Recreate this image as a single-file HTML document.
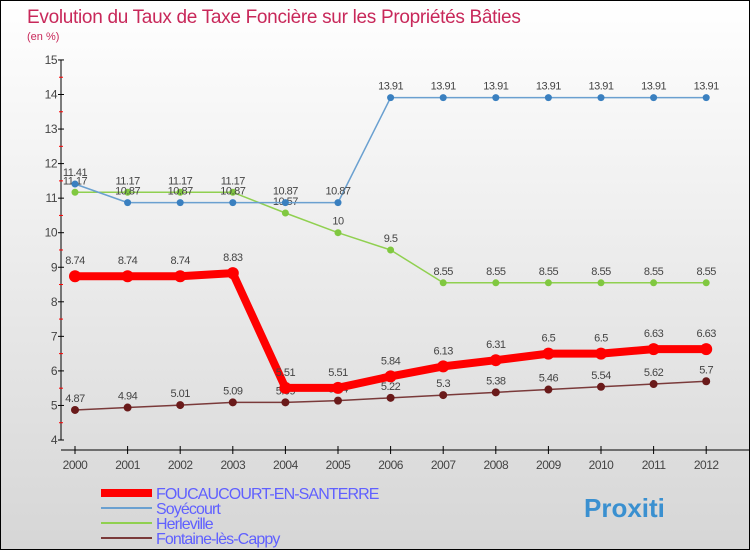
<!DOCTYPE html>
<html><head><meta charset="utf-8"><style>
body{margin:0}
#wrap{width:748px;height:548px;border:1px solid #000;background:linear-gradient(#fff,#d6d6d6);position:relative;font-family:"Liberation Sans",sans-serif}
</style></head><body>
<div id="wrap">
<svg id="c" width="748" height="548" xmlns="http://www.w3.org/2000/svg"></svg>
</div>
<script>
const years=[2000,2001,2002,2003,2004,2005,2006,2007,2008,2009,2010,2011,2012];
const foucaucourt=[8.74,8.74,8.74,8.83,5.51,5.51,5.84,6.13,6.31,6.5,6.5,6.63,6.63];
const soyecourt=[11.41,10.87,10.87,10.87,10.87,10.87,13.91,13.91,13.91,13.91,13.91,13.91,13.91];
const herleville=[11.17,11.17,11.17,11.17,10.57,10,9.5,8.55,8.55,8.55,8.55,8.55,8.55];
const fontaine=[4.87,4.94,5.01,5.09,5.09,5.14,5.22,5.3,5.38,5.46,5.54,5.62,5.7];
const yTicks=[4,5,6,7,8,9,10,11,12,13,14,15];
const svg=document.getElementById('c');const NS='http://www.w3.org/2000/svg';
function X(i){return 74+i*52.6}
function Y(v){return 439-(v-4)*34.55}
function el(t,a,p){const e=document.createElementNS(NS,t);for(const k in a)e.setAttribute(k,a[k]);(p||svg).appendChild(e);return e}
let t=el('text',{x:26,y:22,'font-size':19,fill:'#c8285a','letter-spacing':'-0.3'});t.textContent='Evolution du Taux de Taxe Foncière sur les Propriétés Bâties';

t=el('text',{x:26,y:39,'font-size':11,fill:'#c8285a'});t.textContent='(en %)';

let a=el('line',{x1:60,y1:Y(15),x2:60,y2:Y(4),stroke:'#000'});

a=el('line',{x1:60,y1:449,x2:748,y2:449,stroke:'#000'});

yTicks.forEach(v=>{el('line',{x1:57,y1:Y(v),x2:63,y2:Y(v),stroke:'#000'});
 if(v<15)el('line',{x1:58,y1:Y(v+.5),x2:62,y2:Y(v+.5),stroke:'#f00'});
 const l=el('text',{x:56,y:Y(v)+4,'font-size':12,'text-anchor':'end',fill:'#444','letter-spacing':'-0.5'});l.textContent=v;
 });
years.forEach((y,i)=>{el('line',{x1:X(i),y1:445,x2:X(i),y2:453,stroke:'#000'});
 const l=el('text',{x:X(i),y:468,'font-size':12,'text-anchor':'middle',fill:'#444','letter-spacing':'-0.5'});l.textContent=y;
 });
function series(d,col,w,r,dot,name,labOff){
 const g=el('g',{});
 el('polyline',{points:d.map((v,i)=>X(i)+','+Y(v)).join(' '),fill:'none',stroke:col,'stroke-width':w,'stroke-linejoin':'round'},g);
 d.forEach((v,i)=>{const c=el('circle',{cx:X(i),cy:Y(v),r:r,fill:dot},g);
  
  const l=el('text',{x:X(i),y:Y(v)-labOff,'font-size':11,'text-anchor':'middle',fill:'#444','letter-spacing':'-0.5'},g);l.textContent=v;});
}
series(fontaine,'#7a3a3a',1.5,4,'#6a1a1a','fontaine',8);
series(herleville,'#90d050',1.5,3.5,'#80c840','herleville',8);
series(soyecourt,'#6aa0d0',1.5,3.5,'#3a80c0','soyecourt',8);
series(foucaucourt,'#f00',8,6,'#f00','foucaucourt',12);
const leg=[['FOUCAUCOURT-EN-SANTERRE','#f00',8],['Soyécourt','#6aa0d0',2],['Herleville','#90d050',2],['Fontaine-lès-Cappy','#7a3a3a',2]];
leg.forEach((L,i)=>{const yy=492+i*15;const g=el('g',{});
 
 el('line',{x1:100,y1:yy,x2:151,y2:yy,stroke:L[1],'stroke-width':L[2]},g);
 const l=el('text',{x:155,y:yy+6,'font-size':16,fill:'#6060ff','letter-spacing':'-0.9'},g);l.textContent=L[0];});
t=el('text',{x:583,y:516,'font-size':26,'font-weight':'bold',fill:'#3a90d0'});t.textContent='Proxiti';

</script>
</body></html>
